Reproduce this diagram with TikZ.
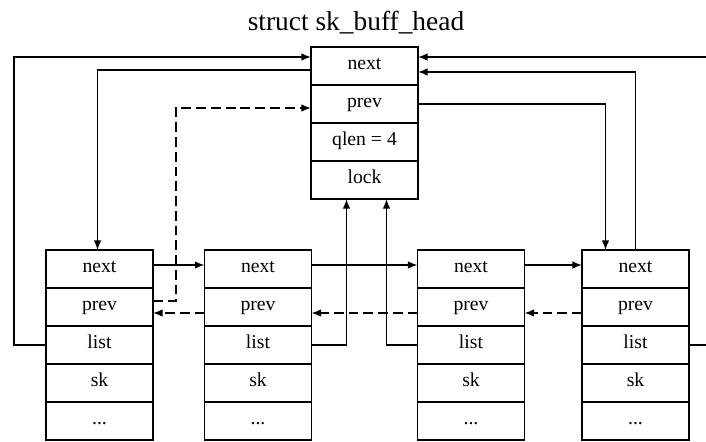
\documentclass[tikz,border=0pt]{standalone}
\usepackage{fontspec}
\setmainfont{Liberation Serif}
\usetikzlibrary{positioning,arrows.meta}

\tikzset{
  field/.style={draw, line width=1.1pt, outer sep=0pt, inner sep=0pt,
    minimum width=2.675cm, minimum height=0.95cm,
    text height=1.5ex, text depth=0.45ex, font=\fontsize{14}{16}\selectfont},
  link/.style={line width=1.1pt, -{Latex[length=2.4mm,width=1.9mm]}},
  backlink/.style={link, dash pattern=on 7pt off 3.5pt},
}

\begin{document}
\begin{tikzpicture}[scale=1.0]
  \useasboundingbox (0,0) rectangle (17.65,11.025);
  \node[font=\fontsize{19.5}{22}\selectfont] (title) at (8.9,10.45) {struct sk\_buff\_head};
  % the queue head
  \node[field] (h-next) at (9.1125,9.375) {next};
  \node[field, below=0pt of h-next] (h-prev) {prev};
  \node[field, below=0pt of h-prev] (h-qlen) {qlen = 4};
  \node[field, below=0pt of h-qlen] (h-lock) {lock};
  % the four buffers
  \node[field] (a-next) at (2.4875,4.3) {next};
  \node[field, below=0pt of a-next] (a-prev) {prev};
  \node[field, below=0pt of a-prev] (a-list) {list};
  \node[field, below=0pt of a-list] (a-sk) {sk};
  \node[field, below=0pt of a-sk] (a-dots) {...};
  \node[field] (b-next) at (6.45,4.3) {next};
  \node[field, below=0pt of b-next] (b-prev) {prev};
  \node[field, below=0pt of b-prev] (b-list) {list};
  \node[field, below=0pt of b-list] (b-sk) {sk};
  \node[field, below=0pt of b-sk] (b-dots) {...};
  \node[field] (c-next) at (11.775,4.3) {next};
  \node[field, below=0pt of c-next] (c-prev) {prev};
  \node[field, below=0pt of c-prev] (c-list) {list};
  \node[field, below=0pt of c-list] (c-sk) {sk};
  \node[field, below=0pt of c-sk] (c-dots) {...};
  \node[field] (d-next) at (15.8875,4.3) {next};
  \node[field, below=0pt of d-next] (d-prev) {prev};
  \node[field, below=0pt of d-prev] (d-list) {list};
  \node[field, below=0pt of d-list] (d-sk) {sk};
  \node[field, below=0pt of d-sk] (d-dots) {...};
  % wrap-around ends
  \coordinate (wrapL) at ([xshift=-0.8cm]a-list.west);
  \coordinate (wrapR) at ([xshift=0.425cm]d-list.east);
  \coordinate (hnL) at ([yshift=0.225cm]h-next.west);
  \coordinate (hnR) at ([yshift=0.225cm]h-next.east);
  % head links
  \draw[link] (a-list.west) -- (wrapL) |- (hnL);
  \draw[link] ([yshift=-0.1cm]h-next.west) -| ([xshift=-0.05cm]a-next.north);
  \draw[backlink] ([yshift=0.15cm]a-prev.east) -- ++(0.575,0) |- ([yshift=-0.1cm]h-prev.west);
  \draw[link] (h-prev.east) -| ([xshift=-0.75cm]d-next.north);
  \draw[link] (d-next.north) |- ([yshift=-0.15cm]h-next.east);
  \draw[link] (hnR -| wrapR) -- (hnR);
  \draw[line width=1.1pt] (d-list.east) -- (wrapR);
  \draw[link] (b-list.east) -| ([xshift=-0.45cm]h-lock.south);
  \draw[link] (c-list.west) -| ([xshift=0.55cm]h-lock.south);
  % next and prev between buffers
  \draw[link] ([yshift=0.1cm]a-next.east) -- ([yshift=0.1cm]b-next.west);
  \draw[link] ([yshift=0.1cm]b-next.east) -- ([yshift=0.1cm]c-next.west);
  \draw[link] ([yshift=0.1cm]c-next.east) -- ([yshift=0.1cm]d-next.west);
  \draw[backlink] ([yshift=-0.15cm]b-prev.west) -- ([yshift=-0.15cm]a-prev.east);
  \draw[backlink] ([yshift=-0.15cm]c-prev.west) -- ([yshift=-0.15cm]b-prev.east);
  \draw[backlink] ([yshift=-0.15cm]d-prev.west) -- ([yshift=-0.15cm]c-prev.east);
\end{tikzpicture}
\end{document}
